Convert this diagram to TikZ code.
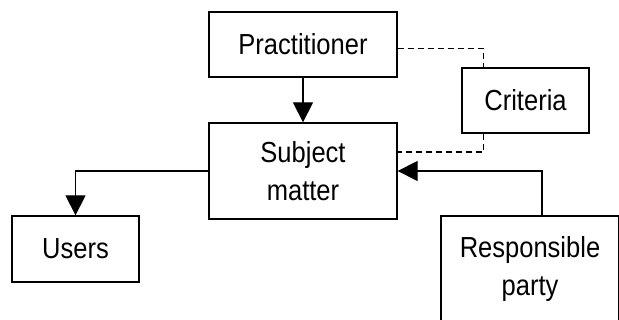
\documentclass[tikz,border=0pt]{standalone}
\usepackage{fontspec}
\setmainfont[FakeStretch=0.88]{Liberation Sans}
\usepackage{tikz}
\usetikzlibrary{arrows.meta}

\begin{document}
\begin{tikzpicture}
    \useasboundingbox (0,0) rectangle (619pt,-320pt);
    \begin{scope}[every node/.style={draw,line width=1.3pt,inner sep=0pt,align=center,font=\fontsize{29}{38}\selectfont}]
        \node[minimum width=188pt,minimum height=65pt] (P) at (303pt,-44.5pt) {Practitioner};
        \node[minimum width=127pt,minimum height=65pt] (C) at (525.5pt,-100.5pt) {Criteria};
        \node[minimum width=188pt,minimum height=96pt] (S) at (303pt,-171pt) {Subject\\matter};
        \node[minimum width=127pt,minimum height=66pt] (U) at (75.5pt,-249pt) {Users};
        \node[minimum width=178pt,minimum height=106pt] (R) at (530pt,-269pt) {Responsible\\party};
    \end{scope}

    \begin{scope}[line width=1.3pt]
        \draw [-{Triangle[length=20pt,width=20pt]}] (P) -- (S);
        \draw [-{Triangle[length=20pt,width=20pt]}] (S.west) -| (U.north);
        \draw [-{Triangle[length=20pt,width=20pt]}] ([xshift=12pt]R.north) |- (S.east);
        \draw [dash pattern=on 6pt off 4pt] ([yshift=-4pt]P.east) -| ([xshift=-42pt]C.north);
        \draw [dash pattern=on 6pt off 4pt] ([xshift=-42pt]C.south) |- ([yshift=19pt]S.east);
    \end{scope}
\end{tikzpicture}
\end{document}
